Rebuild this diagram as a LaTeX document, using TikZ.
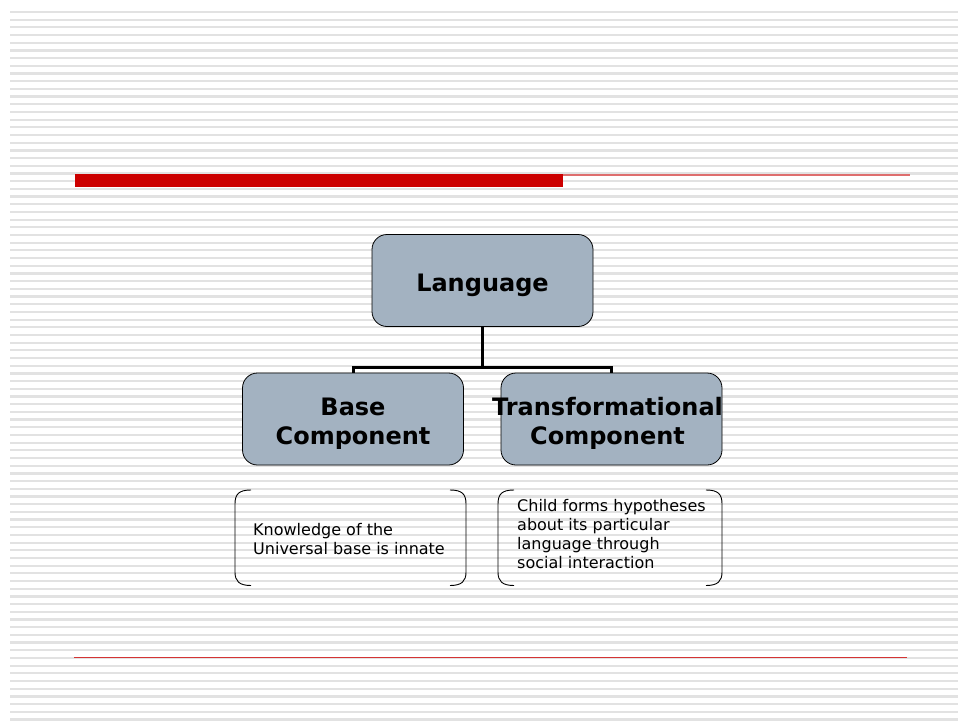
\documentclass[tikz,border=0pt]{standalone}
\usepackage{fontspec}
\setmainfont{DejaVu Sans}
\definecolor{stripegray}{RGB}{226,226,226}
\definecolor{boxfill}{RGB}{163,178,193}
\definecolor{barred}{RGB}{204,0,0}
\definecolor{thinred}{RGB}{222,110,110}
\definecolor{footred}{RGB}{212,52,52}
% box label: centred, set a little low, taking no room of its own
\newcommand{\boxlabel}[2][0pt]{\raisebox{-11pt}[0pt][0pt]{\makebox[0pt]{\hspace{#1}\begin{tabular}{@{}c@{}}#2\end{tabular}}}}
\begin{document}
\begin{tikzpicture}[x=1pt,y=-1pt,
  stripe/.style={line width=2.2pt,color=stripegray},
  topbox/.style={draw=black,line width=0.8pt,fill=boxfill,
    rounded corners=15pt,minimum width=221pt,minimum height=92pt,
    font=\fontsize{24}{29}\selectfont\bfseries,inner sep=0pt},
  note/.style={align=left,font=\fontsize{16}{19}\selectfont,inner sep=0pt,anchor=north west},
  conn/.style={line width=3pt},
  bracket/.style={line width=0.9pt}]
\useasboundingbox (0,0) rectangle (958,723);
\fill[white] (0,0) rectangle (958,723);
% background stripes
\foreach \i in {0,...,92}{
  \draw[stripe] (10,12+7.69*\i) -- (958,12+7.69*\i);
}
% title rules
\fill[barred] (75,174) rectangle (563,186.5);
\draw[line width=1.4pt,thinred] (563,174.8) -- (910,174.8);
\draw[line width=1.6pt,footred] (74,657.3) -- (907,657.3);
% hierarchy
\node[topbox] (lang) at (482.5,280.5) {\boxlabel{Language}};
\node[topbox] (base) at (353,419) {\boxlabel{Base\\Component}};
\node[topbox] (trans) at (611.5,419) {\boxlabel[-8pt]{Transformational\\Component}};
\coordinate (j) at (482.5,367);
\draw[conn] (lang.south) -- (j);
\draw[conn] (base.north) -- (base.north |- j) -- (trans.north |- j) -- (trans.north);
% bracketed notes
\foreach \l/\r in {235/466,498/722}{
  \draw[bracket] (\l+16,490) .. controls (\l+4,490) and (\l,494) .. (\l,504) -- (\l,572)
     .. controls (\l,581) and (\l+4,585.5) .. (\l+16,585.5);
  \draw[bracket] (\r-16,490) .. controls (\r-4,490) and (\r,494) .. (\r,504) -- (\r,572)
     .. controls (\r,581) and (\r-4,585.5) .. (\r-16,585.5);
}
\node[note] (n1) at (253,523.5) {Knowledge of the\\Universal base is innate};
\node[note] (n2) at (517,499.5) {Child forms hypotheses\\about its particular\\language through\\social interaction};
\end{tikzpicture}
\end{document}
